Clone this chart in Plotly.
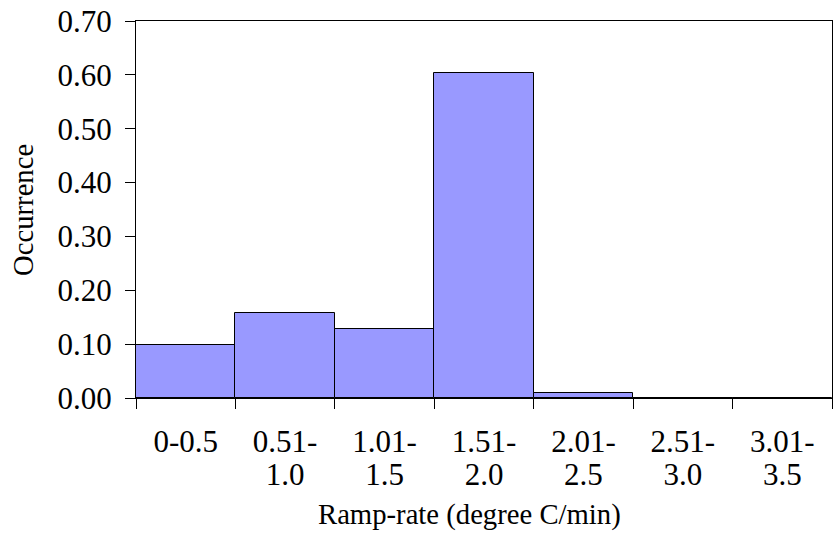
import plotly.graph_objects as go

categories = ["0-0.5", "0.51-1.0", "1.01-1.5", "1.51-2.0", "2.01-2.5", "2.51-3.0", "3.01-3.5"]
tick_line1 = ["0-0.5", "0.51-", "1.01-", "1.51-", "2.01-", "2.51-", "3.01-"]
tick_line2 = ["", "1.0", "1.5", "2.0", "2.5", "3.0", "3.5"]
occurrence = [0.098, 0.158, 0.128, 0.603, 0.009, 0.0, 0.0]
y_ticks = [0.0, 0.1, 0.2, 0.3, 0.4, 0.5, 0.6, 0.7]
x_title = "Ramp-rate (degree C/min)"
y_title = "Occurrence"

FONT = "Liberation Serif"
W, H = 833, 537
L, R, T, B = 136, 1, 21, 139
PW, PH = W - L - R, H - T - B
TICKFONT = dict(family=FONT, size=31, color="black")
idx = list(range(len(categories)))

fig = go.Figure()
fig.add_trace(go.Bar(
    x=categories, y=occurrence,
    marker=dict(color="#9999FF", line=dict(color="#000000", width=1)),
    hoverinfo="x+y",
))
# invisible companion trace so the overlaid axis (second label line) is drawn
fig.add_trace(go.Scatter(
    x=idx, y=occurrence, xaxis="x2", yaxis="y", mode="markers",
    marker=dict(opacity=0), hoverinfo="skip", showlegend=False,
))

fig.update_layout(
    width=W, height=H,
    margin=dict(l=L, r=R, t=T, b=B),
    paper_bgcolor="white", plot_bgcolor="white",
    bargap=0, showlegend=False,
    font=dict(family=FONT, size=31, color="black"),
    xaxis=dict(
        type="category", tickson="boundaries", ticks="outside", ticklen=10, tickcolor="black",
        tickvals=categories, ticktext=tick_line1,
        showline=True, linecolor="black", linewidth=1, mirror=True, showgrid=False,
        ticklabelstandoff=16, tickfont=TICKFONT,
    ),
    xaxis2=dict(
        overlaying="x", side="bottom", anchor="y", range=[-0.5, len(categories) - 0.5],
        tickvals=idx, ticktext=tick_line2,
        ticks="outside", ticklen=10, tickcolor="rgba(0,0,0,0)",
        showline=False, showgrid=False, zeroline=False,
        ticklabelstandoff=39, tickfont=TICKFONT,
    ),
    yaxis=dict(
        range=[0, 0.7], tickvals=y_ticks, tickformat=".2f", ticks="outside", ticklen=10, tickcolor="black",
        showline=True, linecolor="black", linewidth=1, mirror=True, showgrid=False, zeroline=False,
        ticklabelstandoff=7, tickfont=TICKFONT,
    ),
)

fig.add_annotation(
    text=x_title, xref="paper", yref="paper",
    x=(469 - L) / PW, y=(H - B - 514) / PH, xanchor="center", yanchor="middle",
    showarrow=False, font=dict(family=FONT, size=28.7, color="black"),
)
fig.add_annotation(
    text=y_title, xref="paper", yref="paper",
    x=(23 - L) / PW, y=(H - B - 210) / PH, xanchor="center", yanchor="middle",
    textangle=-90, showarrow=False, font=dict(family=FONT, size=28.7, color="black"),
)

fig.write_html("out.html")
